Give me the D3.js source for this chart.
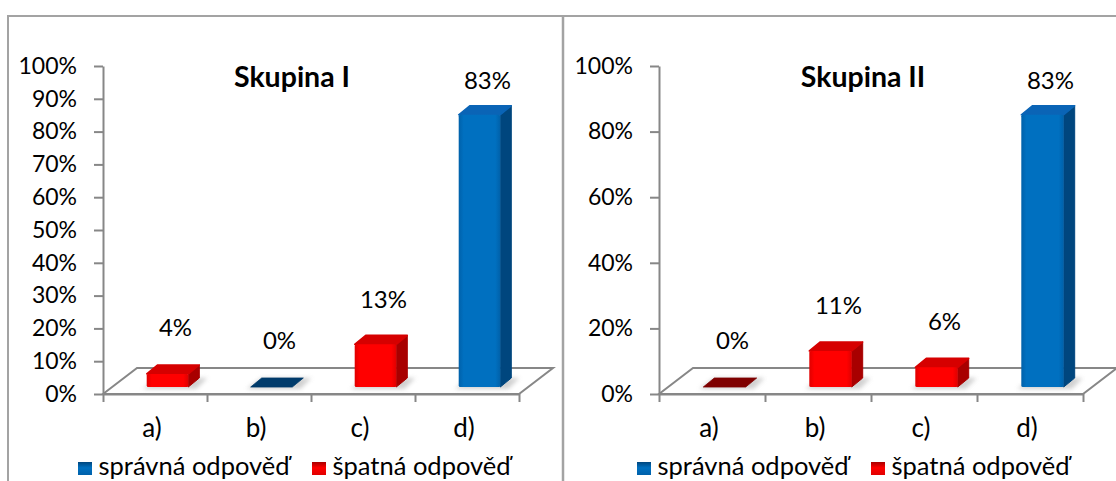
<!DOCTYPE html>
<html>
<head>
<meta charset="utf-8">
<script src="https://cdn.jsdelivr.net/npm/d3@7"></script>
<style>
  body { margin: 0; background: #fff; }
  svg { display: block; font-family: Lato, 'Open Sans', sans-serif; }
</style>
</head>
<body>
<div id="chart"></div>
<script>
const categories = ['a)', 'b)', 'c)', 'd)'];
const titles = ['Skupina I', 'Skupina II'];
const valuesI = [0.04, 0, 0.13, 0.83];
const valuesII = [0, 0.11, 0.06, 0.83];
// which series each bar belongs to
const seriesI = ['wrong', 'right', 'wrong', 'right'];
const seriesII = ['wrong', 'wrong', 'wrong', 'right'];
const ticksI = [0, 0.1, 0.2, 0.3, 0.4, 0.5, 0.6, 0.7, 0.8, 0.9, 1];
const ticksII = [0, 0.2, 0.4, 0.6, 0.8, 1];
const legendKeys = ['right', 'wrong'];
const legendLabels = ['správná odpověď', 'špatná odpověď'];

const colors = {
    right: { front: '#0070c0', edge: '#0061aa', side: '#00467e', top: '#0a64b6', flat: '#003b6b' },
    wrong: { front: '#ff0000', edge: '#e00000', side: '#a80000', top: '#d60000', flat: '#7f0000' }
};

const width = 1116;
const height = 481;
const axisColor = '#878787';
const floorBase = 394;
const barBase = 387;
const floorDepth = [34, -26];
const barDepth = [11, -9];

const panels = [
    { title: titles[0], values: valuesI, series: seriesI, ticks: ticksI, x0: 103, w: 416, titleX: 292, legendX: 78 },
    { title: titles[1], values: valuesII, series: seriesII, ticks: ticksII, x0: 659, w: 424, titleX: 863, legendX: 637 }
];

const svg = d3.select('#chart').append('svg')
    .attr('width', width)
    .attr('height', height)
    .attr('viewBox', `0 0 ${width} ${height}`);

const defs = svg.append('defs');
defs.append('filter').attr('id', 'soft')
    .attr('x', '-50%').attr('y', '-50%').attr('width', '200%').attr('height', '200%')
    .append('feGaussianBlur').attr('stdDeviation', 2.2);

Object.entries(colors).forEach(([k, c]) => {
    const g = defs.append('linearGradient').attr('id', `front-${k}`);
    g.append('stop').attr('offset', '0%').attr('stop-color', c.edge);
    g.append('stop').attr('offset', '12%').attr('stop-color', c.front);
    g.append('stop').attr('offset', '88%').attr('stop-color', c.front);
    g.append('stop').attr('offset', '100%').attr('stop-color', c.edge);
    const lg = defs.append('linearGradient').attr('id', `leg-${k}`)
        .attr('x1', 0).attr('y1', 0).attr('x2', 0).attr('y2', 1);
    lg.append('stop').attr('offset', '0%').attr('stop-color', c.side);
    lg.append('stop').attr('offset', '45%').attr('stop-color', c.front);
    lg.append('stop').attr('offset', '100%').attr('stop-color', c.edge);
});

// chart frames
svg.append('path')
    .attr('d', `M8,${height} V16 H${width}`)
    .attr('fill', 'none')
    .attr('stroke', '#a3a3a3')
    .attr('stroke-width', 2);
svg.append('line')
    .attr('x1', 563).attr('x2', 563).attr('y1', 16).attr('y2', height)
    .attr('stroke', '#a3a3a3')
    .attr('stroke-width', 2.5);

const y = d3.scaleLinear().domain([0, 1]).range([floorBase, 66]);

panels.forEach(p => {
    const g = svg.append('g');
    const x = d3.scaleBand().domain(categories).range([p.x0, p.x0 + p.w]);
    const edges = d3.scaleLinear().domain([0, categories.length]).range([p.x0, p.x0 + p.w]);
    const bw = x.bandwidth() * 0.4;
    const shift = 12.5;
    const [fdx, fdy] = floorDepth;
    const [bdx, bdy] = barDepth;

    // floor
    const x1 = p.x0 + p.w;
    g.append('path')
        .attr('d', `M${p.x0},${floorBase} L${p.x0 + fdx},${floorBase + fdy} L${x1 + fdx},${floorBase + fdy} L${x1},${floorBase} Z`)
        .attr('fill', '#fff')
        .attr('stroke', axisColor)
        .attr('stroke-width', 2);

    const bars = categories.map((c, i) => {
        const left = x(c) + (x.bandwidth() - bw) / 2 + shift;
        const top = y(p.values[i]) - (floorBase - barBase);
        return { c, v: p.values[i], s: p.series[i], left, right: left + bw, top };
    });

    // shadows on the floor
    g.selectAll('.shadow').data(bars).enter().append('path')
        .attr('d', d => `M${d.left - 4},${barBase + 2} L${d.right + 8},${barBase + 2} L${d.right + bdx + 8},${barBase + bdy} L${d.left + bdx},${barBase + bdy} Z`)
        .attr('fill', '#bdbdbd')
        .attr('opacity', 0.7)
        .attr('filter', 'url(#soft)');

    bars.forEach(d => {
        const col = colors[d.s];
        if (d.v === 0) {
            g.append('path')
                .attr('d', `M${d.left},${barBase} L${d.right},${barBase} L${d.right + bdx},${barBase + bdy} L${d.left + bdx},${barBase + bdy} Z`)
                .attr('fill', col.flat)
                .attr('stroke', col.flat)
                .attr('stroke-width', 0.8)
                .attr('stroke-linejoin', 'round');
            return;
        }
        // side face
        g.append('path')
            .attr('d', `M${d.right},${barBase} L${d.right + bdx},${barBase + bdy} L${d.right + bdx},${d.top + bdy} L${d.right},${d.top} Z`)
            .attr('fill', col.side)
            .attr('stroke', col.side)
            .attr('stroke-width', 1)
            .attr('stroke-linejoin', 'round');
        // top face
        g.append('path')
            .attr('d', `M${d.left},${d.top} L${d.right},${d.top} L${d.right + bdx},${d.top + bdy} L${d.left + bdx},${d.top + bdy} Z`)
            .attr('fill', col.top)
            .attr('stroke', col.top)
            .attr('stroke-width', 1.5)
            .attr('stroke-linejoin', 'round');
        // front face
        g.append('rect')
            .attr('x', d.left)
            .attr('y', d.top)
            .attr('width', bw)
            .attr('height', barBase - d.top)
            .attr('rx', 1.5)
            .attr('fill', `url(#front-${d.s})`);
    });

    // value labels
    g.selectAll('.val').data(bars).enter().append('text')
        .attr('x', d => d.left + bw / 2 + 8)
        .attr('y', d => d.top - 38.5 + d.v * 15)
        .attr('text-anchor', 'middle')
        .attr('fill', '#000')
        .style('font-size', '24px')
        .text(d => d3.format('.0%')(d.v));

    // y axis
    const yAxis = d3.axisLeft(y)
        .tickValues(p.ticks)
        .tickFormat(d3.format('.0%'))
        .tickSize(9)
        .tickSizeOuter(0)
        .tickPadding(17);
    const ya = g.append('g')
        .attr('transform', `translate(${p.x0},0)`)
        .call(yAxis);
    ya.select('.domain').attr('stroke', axisColor).attr('stroke-width', 2);
    ya.selectAll('.tick line').attr('stroke', axisColor).attr('stroke-width', 2);
    ya.selectAll('.tick text')
        .attr('fill', '#000')
        .style('font-size', '23px')
        .style('font-family', 'Lato, sans-serif');

    // x axis boundary ticks
    const xAxis = d3.axisBottom(edges)
        .tickValues(d3.range(categories.length + 1))
        .tickFormat('')
        .tickSize(8)
        .tickSizeOuter(0);
    const xa = g.append('g')
        .attr('transform', `translate(0,${floorBase})`)
        .call(xAxis);
    xa.select('.domain').attr('stroke', axisColor).attr('stroke-width', 2);
    xa.selectAll('.tick line').attr('stroke', axisColor).attr('stroke-width', 2);

    // category labels
    g.selectAll('.cat').data(categories).enter().append('text')
        .attr('x', c => x(c) + x.bandwidth() / 2 - 3)
        .attr('y', 437)
        .attr('text-anchor', 'middle')
        .style('font-size', '26px')
        .text(c => c);

    // title
    g.append('text')
        .attr('x', p.titleX)
        .attr('y', 87)
        .attr('text-anchor', 'middle')
        .style('font-size', '28.5px')
        .style('font-weight', 'bold')
        .text(p.title);

    // legend
    const lg = g.selectAll('.leg').data(legendKeys).enter().append('g')
        .attr('transform', (k, i) => `translate(${p.legendX + i * 234},462)`);
    lg.append('rect')
        .attr('width', 14)
        .attr('height', 13)
        .attr('fill', k => `url(#leg-${k})`);
    lg.append('text')
        .attr('x', 20.5)
        .attr('y', 13)
        .style('font-size', '25.5px')
        .text((k, i) => legendLabels[i]);
});
</script>
</body>
</html>
